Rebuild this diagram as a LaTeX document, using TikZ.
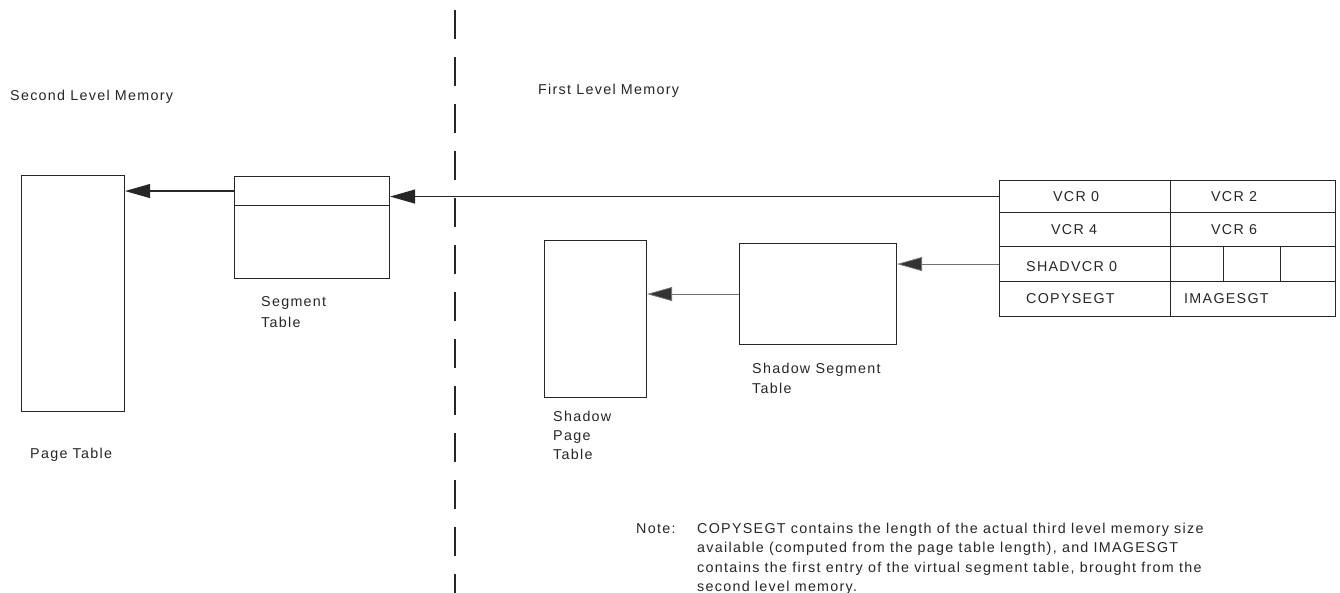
\documentclass[tikz,border=0pt]{standalone}
\usepackage{fontspec}
\setmainfont{Liberation Sans}[LetterSpace=9]
\usetikzlibrary{arrows.meta,calc}
\begin{document}
\begin{tikzpicture}[x=1pt,y=-1pt,
  every node/.style={font=\fontsize{14.3pt}{17pt}\selectfont, text=black!85},
  lbl/.style={anchor=base west, inner sep=0pt},
  tbox/.style={draw=black!85, line width=1.1pt, inner sep=0pt, anchor=north west},
  cell/.style={draw=black!85, line width=1.1pt, inner sep=0pt, anchor=north west},
  mainarr/.style={draw=black!85, line width=1.1pt, -{Triangle[length=25pt,width=14pt]}},
  shadarr/.style={draw=black!55, line width=0.8pt, -{Triangle[length=25pt,width=14pt,fill=black!80]}},
  divider/.style={draw=black!85, line width=1.2pt, dash pattern=on 29pt off 18pt}
]
\useasboundingbox (0,0) rectangle (1340,593);

% dividing line
\coordinate (dtop) at (455,10);
\coordinate (dbot) at (455,593);
\draw[divider] (dtop) -- (dbot);

% headings
\node[lbl] (slm) at (10,101) {Second Level Memory};
\node[lbl] (flm) at (538,95) {First Level Memory};

% page table
\node[tbox, minimum width=103pt, minimum height=236pt] (pt) at (21,175) {};
\node[lbl] (ptl) at (30,458) {Page Table};

% segment table
\node[tbox, minimum width=155pt, minimum height=29pt] (seghead) at (234,176) {};
\node[tbox, minimum width=155pt, minimum height=73pt] (segbody) at (234,205) {};
\node[lbl] (segl1) at (261,306) {Segment};
\node[lbl] (segl2) at (261,327) {Table};

% shadow page table
\node[tbox, minimum width=102pt, minimum height=157pt] (spt) at (544,240) {};
\node[lbl] (sptl1) at (553,421) {Shadow};
\node[lbl] (sptl2) at (553,440) {Page};
\node[lbl] (sptl3) at (553,459) {Table};

% shadow segment table
\node[tbox, minimum width=157pt, minimum height=101pt] (sst) at (739,243) {};
\node[lbl] (sstl1) at (752,373) {Shadow Segment};
\node[lbl] (sstl2) at (752,393) {Table};

% VCR table
\node[cell, minimum width=171pt, minimum height=32pt] (vcr0) at (999,180) {\hspace*{-18pt}VCR 0};
\node[cell, minimum width=165pt, minimum height=32pt] (vcr2) at (1170,180) {\hspace*{-38pt}VCR 2};
\node[cell, minimum width=171pt, minimum height=34pt] (vcr4) at (999,212) {\hspace*{-22pt}VCR 4};
\node[cell, minimum width=165pt, minimum height=34pt] (vcr6) at (1170,212) {\hspace*{-38pt}VCR 6};
\node[cell, minimum width=171pt, minimum height=35pt] (shad) at (999,246) {};
\node[lbl] (shadt) at (1026,272) {SHADVCR 0};
\node[cell, minimum width=53pt, minimum height=35pt] (sa) at (1170,246) {};
\node[cell, minimum width=57pt, minimum height=35pt] (sb) at (1223,246) {};
\node[cell, minimum width=55pt, minimum height=35pt] (sc) at (1280,246) {};
\node[cell, minimum width=171pt, minimum height=35pt] (copy) at (999,281) {};
\node[lbl] (copyt) at (1026,304) {COPYSEGT};
\node[cell, minimum width=165pt, minimum height=35pt] (image) at (1170,281) {};
\node[lbl] (imaget) at (1184,304) {IMAGESGT};

% connectors
\draw[mainarr] (vcr0.west) -- (vcr0.west -| seghead.east);
\draw[mainarr] (seghead.west) -- (seghead.west -| pt.east);
\draw[shadarr] (shad.west) -- (shad.west -| sst.east);
\draw[shadarr] (sst.west) -- (sst.west -| spt.east);

% note
\node[lbl] (notel) at (636,533) {Note:};
\node[lbl] (note1) at (697,533) {COPYSEGT contains the length of the actual third level memory size};
\node[lbl] (note2) at (697,552.5) {available (computed from the page table length), and IMAGESGT};
\node[lbl] (note3) at (697,572) {contains the first entry of the virtual segment table, brought from the};
\node[lbl] (note4) at (697,591.5) {second level memory.};
\end{tikzpicture}
\end{document}
